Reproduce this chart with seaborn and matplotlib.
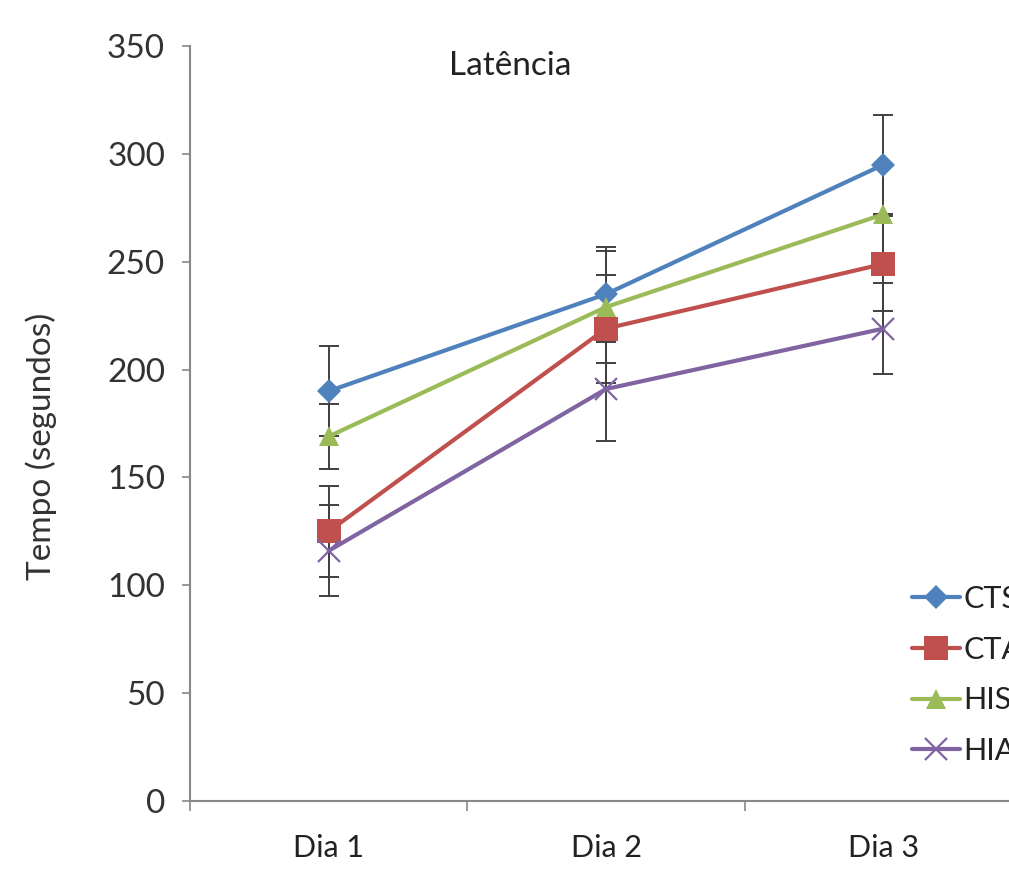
import numpy as np
import pandas as pd
import seaborn as sns
import matplotlib.pyplot as plt
from matplotlib.ticker import FixedLocator

sns.set_style("white")
plt.rcParams['font.family'] = ['Lato', 'DejaVu Sans']

# data
days = ["Dia 1", "Dia 2", "Dia 3"]
groups = ["CTS", "CTA", "HIS", "HIA"]
cts = [190, 235, 295]
cta = [125, 219, 249]
his = [169, 229, 272]
hia = [116, 191, 219]
cts_err = [21, 22, 23]
cta_err = [21, 25, 22]
his_err = [15, 26, 23]
hia_err = [21, 24, 21]

values = [cts, cta, his, hia]
errors = [cts_err, cta_err, his_err, hia_err]
colors = ["#4F81BD", "#C0504D", "#9BBB59", "#8064A2"]
markers = ["D", "s", "^", "x"]
msizes = [12, 17, 14, 16]

fig = plt.figure(figsize=(10.09, 8.72), dpi=100)
ax = fig.add_axes([0.1883, 0.0814, 0.8246, 0.8658])

xpos = np.arange(len(days))
for name, vals, errs, c, m, ms in zip(groups, values, errors, colors, markers, msizes):
    ax.errorbar(xpos, vals, yerr=errs, fmt="none", ecolor="#404040",
                elinewidth=1.4, capsize=7, capthick=1.4, zorder=1)
    df = pd.DataFrame({"x": xpos, "y": vals})
    sns.lineplot(data=df, x="x", y="y", color=c, lw=3, marker=m, ms=ms,
                 mew=1.6 if m == "x" else 0, mec=c, label=name, ax=ax, zorder=3)

ax.set_xlim(-0.5, 2.5)
ax.set_ylim(0, 350)
ax.set_yticks(np.arange(0, 351, 50))
ax.set_xticks(xpos)
ax.set_xticklabels(days)
ax.xaxis.set_minor_locator(FixedLocator([-0.5, 0.5, 1.5, 2.5]))
ax.tick_params(axis="x", which="major", length=0, pad=24, labelsize=22, colors="#222222")
ax.tick_params(axis="x", which="minor", length=7, width=1.2, color="#888888", direction="out", bottom=True)
ax.tick_params(axis="y", length=6, width=1.2, color="#888888", direction="out", left=True,
               labelsize=24, labelcolor="#333333", pad=12)

for s in ["top", "right"]:
    ax.spines[s].set_visible(False)
for s in ["left", "bottom"]:
    ax.spines[s].set_color("#888888")
    ax.spines[s].set_linewidth(1.5)

ax.set_xlabel("")
ax.set_ylabel("Tempo (segundos)", fontsize=24, color="#333333")
ax.yaxis.set_label_coords(-0.16, 0.47)

ax.text(0.385, 0.9616, "Latência", transform=ax.transAxes, ha="center", va="baseline",
        fontsize=24, color="#222222")

# legend runs off the right edge, as in the cropped original
leg = ax.legend(loc="upper left", bbox_to_anchor=(0.904, 0.329),
                bbox_transform=fig.transFigure, frameon=False, fontsize=22,
                handlelength=1.57, handletextpad=0.1, labelspacing=0.74,
                borderpad=0, borderaxespad=0)
for t in leg.get_texts():
    t.set_color("#222222")

fig.savefig("out.png", dpi=100)
